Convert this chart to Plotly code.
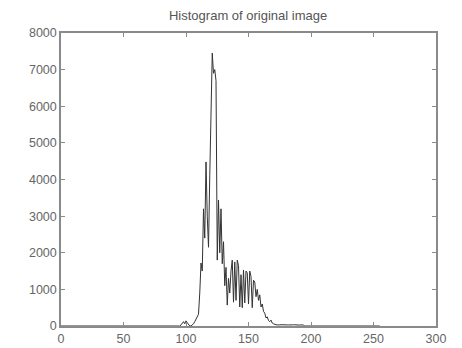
import plotly.graph_objects as go

# Gray levels and counts
levels = list(range(256))

nonzero_start = 95
counts_nonzero = [
    0, 30, 80, 120, 60, 140, 90, 30, 0, 0,            # 95-104
    20, 60, 120, 200, 260, 320, 900, 1720, 1500, 3200, # 105-114
    2400, 4480, 3000, 2150, 4100, 5600, 7450, 6900, 7000, 6700,  # 115-124
    1800, 3440, 2000, 3200, 1700, 2300, 1100, 1600, 570, 1300,   # 125-134
    900, 1500, 1800, 650, 1750, 700, 1800, 1650, 520, 1400,      # 135-144
    500, 1530, 630, 1500, 1450, 600, 1500, 1350, 500, 1250,      # 145-154
    1200, 800, 1000, 700, 850, 520, 600, 400, 350, 220,          # 155-164
    250, 150, 120, 160, 80, 60, 40, 35, 30, 40,                  # 165-174
    30, 35, 30, 25, 30, 35, 30, 30, 25, 30,                      # 175-184
    30, 35, 30, 25, 30, 30, 25, 30, 30, 25, 0,                   # 185-195
]

counts = [0] * 256
for i, c in enumerate(counts_nonzero):
    counts[nonzero_start + i] = c

x_ticks = [0, 50, 100, 150, 200, 250, 300]
y_ticks = [0, 1000, 2000, 3000, 4000, 5000, 6000, 7000, 8000]

title_text = "Histogram of original image"

fig = go.Figure()
fig.add_trace(go.Scatter(
    x=levels, y=counts, mode="lines",
    line=dict(color="#333333", width=1),
    hoverinfo="skip",
))

axis_common = dict(
    showgrid=False, zeroline=False, automargin=False,
    showline=True, linecolor="#8a8a8a", linewidth=1.5, mirror="ticks",
    ticks="inside", ticklen=4, tickcolor="#8a8a8a", tickwidth=1,
    tickfont=dict(family="Liberation Sans, Arial, sans-serif", size=12.5, color="#666666"),
)

fig.update_layout(
    width=462, height=348,
    margin=dict(l=61, r=26, t=33, b=22),
    paper_bgcolor="white", plot_bgcolor="white",
    showlegend=False,
    title=dict(
        text=title_text, x=0.537, xanchor="center", y=0.955, yanchor="middle",
        font=dict(family="Liberation Sans, Arial, sans-serif", size=13, color="#555555"),
    ),
    xaxis=dict(range=[0, 300], tickvals=x_ticks, ticktext=[str(v) for v in x_ticks], **axis_common),
    yaxis=dict(range=[0, 8000], tickvals=y_ticks, ticktext=[str(v) for v in y_ticks], **axis_common),
)

fig.write_html("out.html")
